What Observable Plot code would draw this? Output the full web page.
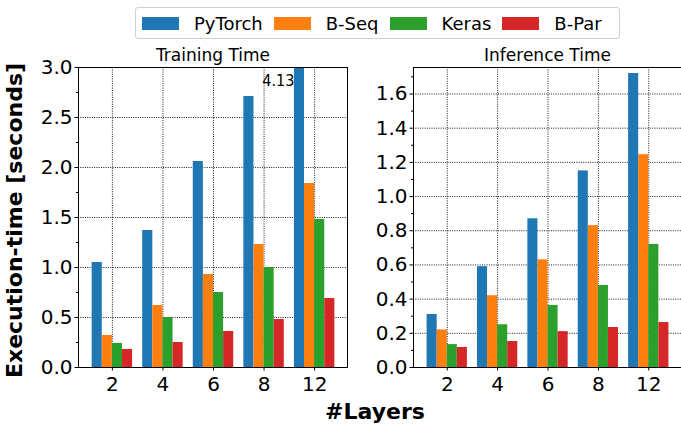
<!DOCTYPE html>
<html>
<head>
<meta charset="utf-8">
<script src="https://cdn.jsdelivr.net/npm/d3@7"></script>
<script src="https://cdn.jsdelivr.net/npm/@observablehq/plot@0.6"></script>
<style>
  html, body { margin: 0; padding: 0; background: #fff; }
  #wrap { position: relative; width: 681px; height: 426px; overflow: hidden; background: #fff; font-family: "DejaVu Sans", sans-serif; }
  #wrap svg { position: absolute; top: 0; overflow: visible; }
  #legend { position: absolute; left: 135px; top: 7px; width: 477px; height: 30px; border: 1px solid #d0d0d0; border-radius: 3px;
            display: flex; align-items: center; padding-left: 6px; box-sizing: content-box; font-size: 18px; color: #000; }
  #legend .sw { width: 37px; height: 13px; margin-right: 15px; flex: none; }
  #legend .lb { margin-right: 11px; white-space: nowrap; line-height: 1; margin-top: 2px; }
  #xlabel { position: absolute; left: 275px; width: 200px; top: 401px; text-align: center; font-size: 22px; font-weight: bold; line-height: 1; }
</style>
</head>
<body>
<div id="wrap">
  <div id="legend"></div>
  <div id="xlabel">#Layers</div>
</div>
<script>
const layers = ["2", "4", "6", "8", "12"];
const series = ["PyTorch", "B-Seq", "Keras", "B-Par"];
const colors = ["#1f77b4", "#ff7f0e", "#2ca02c", "#d62728"];

const trainPyTorch = [1.05, 1.37, 2.06, 2.71, 4.13];
const trainBSeq    = [0.32, 0.62, 0.93, 1.23, 1.84];
const trainKeras   = [0.24, 0.50, 0.75, 1.00, 1.48];
const trainBPar    = [0.18, 0.25, 0.36, 0.48, 0.69];

const inferPyTorch = [0.31, 0.59, 0.87, 1.15, 1.72];
const inferBSeq    = [0.22, 0.42, 0.63, 0.83, 1.245];
const inferKeras   = [0.134, 0.25, 0.363, 0.48, 0.72];
const inferBPar    = [0.117, 0.152, 0.21, 0.234, 0.263];

const trainTicks = [0, 0.5, 1.0, 1.5, 2.0, 2.5, 3.0];
const trainMinor = [0.25, 0.75, 1.25, 1.75, 2.25, 2.75];
const inferTicks = [0, 0.2, 0.4, 0.6, 0.8, 1.0, 1.2, 1.4, 1.6];
const inferMinor = [0.1, 0.3, 0.5, 0.7, 0.9, 1.1, 1.3, 1.5, 1.7];

const barWidth = 0.2;
function tidy(arrays) {
  const rows = [];
  arrays.forEach((arr, j) => arr.forEach((v, i) => {
    const x1 = i - 2 * barWidth + j * barWidth;
    rows.push({layer: layers[i], series: series[j], value: v, i, x1, x2: x1 + barWidth});
  }));
  return rows;
}
const trainData = tidy([trainPyTorch, trainBSeq, trainKeras, trainBPar]);
const inferData = tidy([inferPyTorch, inferBSeq, inferKeras, inferBPar]);

const gridStyle = {stroke: "#000", strokeOpacity: 1, strokeWidth: 0.9, strokeDasharray: "1,1.3"};
const baseStyle = {fontFamily: "DejaVu Sans, sans-serif", fontSize: "20px", color: "#000", background: "transparent", overflow: "visible"};

function panel({data, title, yDomain, ticks, minor, width, marginLeft, marginRight, extra}) {
  const top = 67, bottom = 367;
  return Plot.plot({
    width, height: 400, marginLeft, marginRight, marginTop: top, marginBottom: 400 - bottom,
    x: {type: "linear", domain: [-0.67, 4.65]},
    y: {domain: yDomain},
    color: {domain: series, range: colors},
    style: baseStyle,
    marks: [
      Plot.gridY({ticks, ...gridStyle}),
      Plot.gridX({ticks: d3.range(layers.length), ...gridStyle}),
      Plot.rectY(data, {x1: "x1", x2: "x2", y: "value", fill: "series", clip: true}),
      Plot.frame({stroke: "#000", strokeWidth: 1}),
      Plot.axisY({ticks, tickFormat: d3.format(".1f"), tickSize: 3.5, tickPadding: 2.5, fontSize: 20, label: null}),
      Plot.axisY({ticks: minor.filter(t => t <= yDomain[1]), tickSize: 2, tickFormat: () => "", label: null}),
      Plot.axisX({ticks: d3.range(layers.length), tickFormat: i => layers[i], tickSize: 3.5, tickPadding: 6, fontSize: 20, label: null}),
      Plot.text([title], {frameAnchor: "top", lineAnchor: "middle", textAnchor: "middle", dy: -12, fontSize: 17}),
      ...(extra || [])
    ]
  });
}

const overflow = trainData.filter(d => d.value > trainTicks[trainTicks.length - 1]);

const left = panel({
  data: trainData, title: "Training Time", yDomain: [0, 3], ticks: trainTicks, minor: trainMinor,
  width: 350, marginLeft: 78, marginRight: 3,
  extra: [
    Plot.text(overflow, {x: "x1", text: d => d.value.toFixed(2), frameAnchor: "top", lineAnchor: "middle", dy: 13, textAnchor: "end",
      fontSize: 16, fontFamily: "Liberation Sans Narrow, DejaVu Sans Condensed, sans-serif"}),
    Plot.text(["Execution-time [seconds]"], {frameAnchor: "left", textAnchor: "middle", lineAnchor: "middle", rotate: -90, dx: -64, dy: 3, fontSize: 22, fontWeight: "bold"})
  ]
});
left.style.left = "0px";

const right = panel({
  data: inferData, title: "Inference Time", yDomain: [0, 1.755], ticks: inferTicks, minor: inferMinor,
  width: 341, marginLeft: 73, marginRight: 0
});
right.style.left = "340px";

const wrap = document.getElementById("wrap");
wrap.insertBefore(left, wrap.firstChild);
wrap.insertBefore(right, wrap.firstChild);

const legend = document.getElementById("legend");
series.forEach((s, j) => {
  const sw = document.createElement("span");
  sw.className = "sw";
  sw.style.background = colors[j];
  const lb = document.createElement("span");
  lb.className = "lb";
  lb.textContent = s;
  legend.appendChild(sw);
  legend.appendChild(lb);
});
</script>
</body>
</html>
